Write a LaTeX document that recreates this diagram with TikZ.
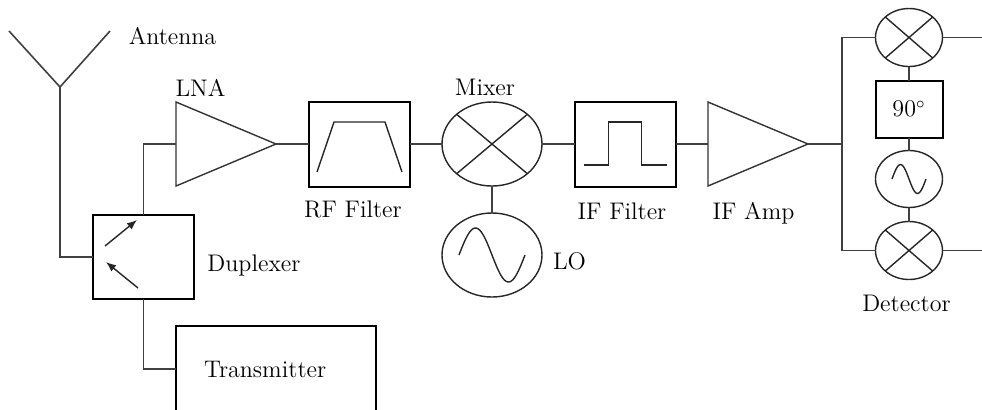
\documentclass[tikz,border=0pt]{standalone}
\usepackage{amsmath}
\usepackage{tikz}
\usetikzlibrary{positioning, calc}
\usetikzlibrary{arrows.meta, shapes.geometric}
\tikzstyle{blockbox}=[rectangle,draw=black,line width=1pt,minimum width=50.5pt,
minimum height=42.5pt,inner sep=0pt,outer sep=0pt]
\tikzstyle{ampbox}=[isosceles triangle,isosceles triangle stretches,draw=black!80,
line width=0.7pt,minimum width=42pt,minimum height=50pt,inner sep=0pt,outer sep=0pt]
\tikzstyle{oscbox}=[ellipse,draw=black!85,line width=0.7pt,minimum width=50pt,
minimum height=42pt,inner sep=0pt,outer sep=0pt]
\tikzstyle{mixbox}=[oscbox,path picture={
\draw[line width=0.7pt] (path picture bounding box.north west) -- (path picture bounding box.south east)
(path picture bounding box.north east) -- (path picture bounding box.south west);}]
\tikzstyle{textbox}=[rectangle,inner sep=0pt,font=\fontsize{12}{14}\selectfont]
\tikzstyle{edgepath}=[draw=black!75,line width=0.8pt]
\tikzstyle{markpath}=[draw=black!85,line width=0.7pt]

\begin{document}
\begin{tikzpicture}[x=0.5pt,y=-0.5pt]
    \useasboundingbox (0,0) rectangle (982,409);
    % antenna, duplexer, transmitter
    \coordinate (ant) at (60,87);
    \draw[edgepath] (9,31) -- (ant) -- (110,31);
    \node[blockbox, minimum height=42pt] (dup) at (143.5,257) {};
    \node[blockbox, textbox, line width=1pt, draw=black, minimum width=100pt,
    minimum height=43pt, text width=72pt, align=left, inner xsep=14pt]
    (tx) at (276,369) {Transmitter};
    % receive chain
    \node[ampbox, anchor=west] (lna) at (176,144) {};
    \node[blockbox, right=16.5pt of lna] (rf) {};
    \node[mixbox, right=16pt of rf] (mix) {};
    \node[oscbox, below=13.5pt of mix] (lo) {};
    \node[blockbox, right=16.5pt of mix] (iff) {};
    \node[ampbox, right=16pt of iff] (ifamp) {};
    \coordinate[right=17pt of ifamp] (split);
    % detector
    \node[mixbox, minimum width=33.5pt, minimum height=29pt] (dmixi) at (909,37.5) {};
    \node[blockbox, textbox, draw=black, line width=1pt, minimum width=33.5pt,
    minimum height=28.5pt, below=7pt of dmixi] (shift) {90$^\circ$};
    \node[oscbox, minimum width=33.5pt, minimum height=28.5pt, below=6.5pt of shift] (dosc) {};
    \node[mixbox, minimum width=33.5pt, minimum height=29pt, below=7pt of dosc] (dmixq) {};
    \coordinate[right=20pt of dmixi] (outi);
    \coordinate[right=20pt of dmixq] (outq);

    % labels
    \node[textbox] (antlabel) at (172.5,36.5) {Antenna};
    \node[textbox] (lnalabel) at (200.5,88) {LNA};
    \node[textbox] (duplabel) at (254,265) {Duplexer};
    \node[textbox] (rflabel) at (353,209) {RF Filter};
    \node[textbox] (mixlabel) at (485,87.5) {Mixer};
    \node[textbox] (lolabel) at (569.5,261.5) {LO};
    \node[textbox] (iflabel) at (622,211.5) {IF Filter};
    \node[textbox] (amplabel) at (753.5,213) {IF Amp};
    \node[textbox] (detlabel) at (906.5,303.5) {Detector};

    % symbols inside the blocks
    \draw[markpath, shift={(rf.center)}] (-42.5,28) -- (-25.5,-22) -- (25.5,-22) -- (42.5,28);
    \draw[markpath, shift={(iff.center)}] (-42,21) -- (-17,21) -- (-17,-22) -- (16,-22)
    -- (16,21) -- (41,21);
    \draw[markpath, shift={(lo.center)}] plot[domain=-33:33, samples=50, smooth]
    (\x, {-27*sin((\x+33)/66*360)});
    \draw[markpath, shift={(dosc.center)}] plot[domain=-17:17, samples=40, smooth]
    (\x, {-14.5*sin((\x+17)/34*360)});
    \draw[markpath, -{Latex[length=5pt,width=4pt]}, shift={(dup.center)}] (-38.5,-11) -- (-6.5,-37);
    \draw[markpath, -{Latex[length=5pt,width=4pt]}, shift={(dup.center)}] (-5.5,31) -- (-37.5,5);

    \path[edgepath]
    (ant) |- (dup.west)
    (dup.north) |- (lna.west)
    (dup.south) |- (tx.west)
    (lna.east) -- (rf.west)
    (rf.east) -- (mix.west)
    (mix.south) -- (lo.north)
    (mix.east) -- (iff.west)
    (iff.east) -- (ifamp.west)
    (ifamp.east) -- (split)
    (dmixi.west) -| (split) |- (dmixq.west)
    (dmixi.east) -- (outi)
    (dmixq.east) -- (outq)
    (dmixi.south) -- (shift.north)
    (shift.south) -- (dosc.north)
    (dosc.south) -- (dmixq.north);
\end{tikzpicture}
\end{document}
